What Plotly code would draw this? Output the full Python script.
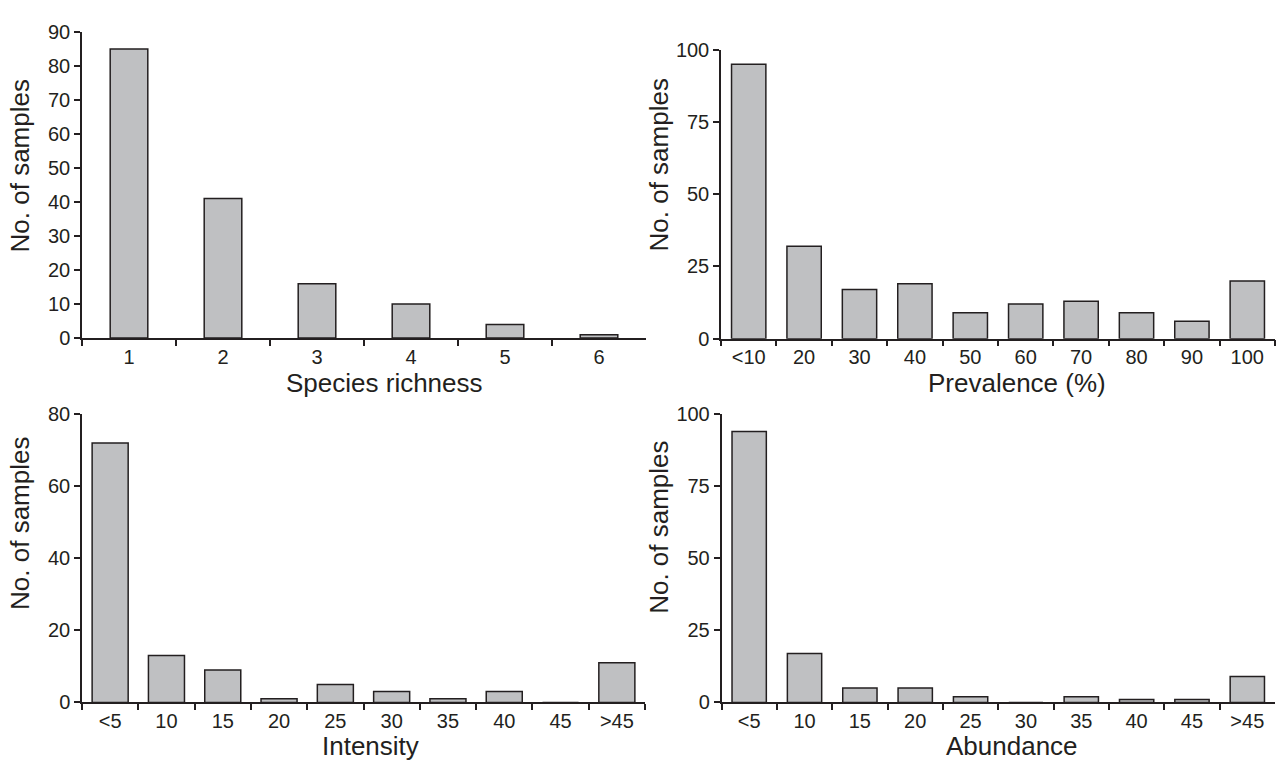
import plotly.graph_objects as go

# ---- data ----
richness_cats = ["1", "2", "3", "4", "5", "6"]
richness_vals = [85, 41, 16, 10, 4, 1]

prevalence_cats = ["<10", "20", "30", "40", "50", "60", "70", "80", "90", "100"]
prevalence_vals = [95, 32, 17, 19, 9, 12, 13, 9, 6, 20]

intensity_cats = ["<5", "10", "15", "20", "25", "30", "35", "40", "45", ">45"]
intensity_vals = [72, 13, 9, 1, 5, 3, 1, 3, 0, 11]

abundance_cats = ["<5", "10", "15", "20", "25", "30", "35", "40", "45", ">45"]
abundance_vals = [94, 17, 5, 5, 2, 0, 2, 1, 1, 9]

x_titles = ["Species richness", "Prevalence (%)", "Intensity", "Abundance"]
y_title = "No. of samples"

W, H = 1279, 772
INK = "#231f20"
FILL = "#bfc0c2"
FONT = "Liberation Sans, Arial, Helvetica, sans-serif"

panels = [
    # cats, vals, bar width, x px domain, y px (top, bottom), y range, dtick
    (richness_cats, richness_vals, 0.40, (82, 646), (21.5, 336.7), 90, 10),
    (prevalence_cats, prevalence_vals, 0.62, (721, 1275), (40, 337.3), 100, 25),
    (intensity_cats, intensity_vals, 0.64, (82, 645), (415, 711.7), 80, 20),
    (abundance_cats, abundance_vals, 0.62, (721.5, 1275), (415, 711.7), 100, 25),
]

fig = go.Figure()
layout = {}
for i, (cats, vals, bw, (x0, x1), (yt, yb), ymax, dt) in enumerate(panels):
    n = i + 1
    xa = "x" if n == 1 else f"x{n}"
    ya = "y" if n == 1 else f"y{n}"
    fig.add_trace(go.Bar(
        x=cats, y=vals, width=bw, xaxis=xa, yaxis=ya,
        marker=dict(color=FILL, line=dict(color=INK, width=1.5)),
        showlegend=False, hoverinfo="x+y",
    ))
    xkey = "xaxis" if n == 1 else f"xaxis{n}"
    ykey = "yaxis" if n == 1 else f"yaxis{n}"
    layout[xkey] = dict(
        domain=[x0 / W, x1 / W], anchor=ya, type="category",
        range=[-0.5, len(cats) - 0.5],
        showline=True, linecolor=INK, linewidth=1.5,
        ticks="outside", tickson="boundaries", ticklen=6, tickwidth=1.5, tickcolor=INK,
        showgrid=False, zeroline=False,
        tickfont=dict(family=FONT, size=20, color=INK),
    )
    layout[ykey] = dict(
        domain=[(H - yb) / H, (H - yt) / H], anchor=xa,
        range=[0, ymax], dtick=dt, tick0=0,
        showline=True, linecolor=INK, linewidth=1.5,
        ticks="outside", ticklen=6, tickwidth=1.5, tickcolor=INK,
        showgrid=False, zeroline=False,
        tickfont=dict(family=FONT, size=20, color=INK),
    )

annotations = []
xt_pos = [(384.5, 383), (1017, 383), (370, 757), (1012, 757)]
yt_pos = [(20, 160), (659, 159), (20, 528), (659, 532)]
for t, (px, py) in zip(x_titles, xt_pos):
    annotations.append(dict(text=t, x=px / W, y=(H - py) / H, xref="paper", yref="paper",
                            xanchor="center", yanchor="middle", showarrow=False,
                            font=dict(family=FONT, size=26, color=INK)))
for (px, py) in yt_pos:
    annotations.append(dict(text=y_title, x=px / W, y=(H - py) / H, xref="paper", yref="paper",
                            xanchor="center", yanchor="middle", showarrow=False, textangle=-90,
                            font=dict(family=FONT, size=26, color=INK)))

fig.update_layout(
    width=W, height=H, margin=dict(l=0, r=0, t=0, b=0),
    paper_bgcolor="white", plot_bgcolor="white",
    annotations=annotations, **layout,
)
fig.write_html("out.html")
